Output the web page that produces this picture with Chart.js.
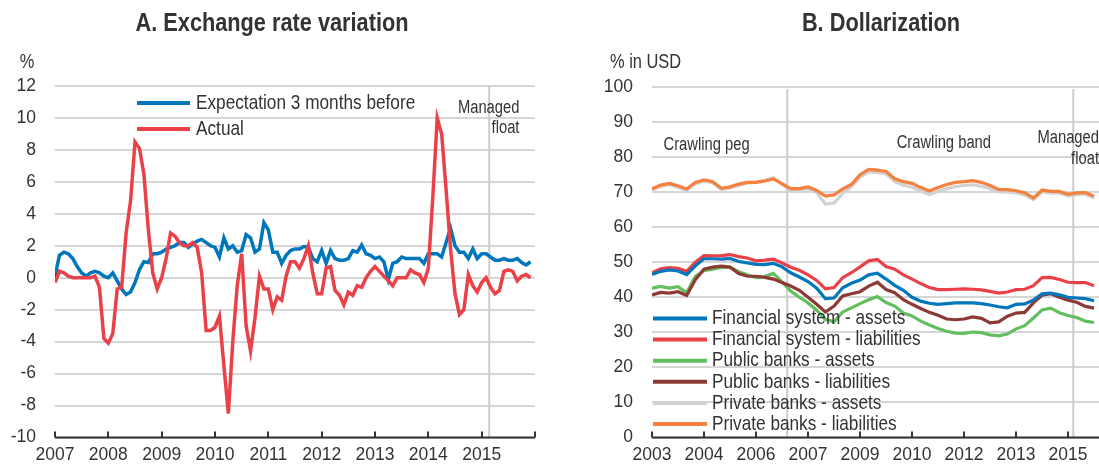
<!DOCTYPE html>
<html><head><meta charset="utf-8">
<script src="https://cdn.jsdelivr.net/npm/chart.js@4.4.0/dist/chart.umd.min.js"></script>
<style>
html,body{margin:0;padding:0;background:#fff;}
#wrap{position:relative;width:1099px;height:467px;overflow:hidden;background:#fff;}
#c1{position:absolute;left:0;top:0;}
#c2{position:absolute;left:560px;top:0;}
</style></head><body>
<div id="wrap"><canvas id="c1" width="560" height="467"></canvas><canvas id="c2" width="539" height="467"></canvas></div>
<script>
// ---------------- DATA ----------------
// Panel A: monthly, Jan 2007 .. Dec 2015 (month index 0..107)
const exStartYear = 2007;
const exExpectation = [0.1,1.4,1.6,1.5,1.2,0.7,0.3,0.1,0.3,0.4,0.3,0.1,
  0.0,0.3,-0.2,-0.7,-1.05,-0.9,-0.3,0.5,1.0,0.95,1.5,1.5,
  1.6,1.8,1.9,2.0,2.2,2.2,1.9,2.1,2.3,2.4,2.2,2.0,
  1.9,1.3,2.5,1.8,2.0,1.6,1.7,2.7,2.5,1.6,1.8,3.45,
  3.0,1.6,1.6,0.9,1.4,1.7,1.8,1.8,1.95,1.9,1.2,1.0,
  1.7,0.9,1.7,1.2,1.1,1.1,1.2,1.7,1.6,2.05,1.5,1.4,
  1.2,1.3,1.0,-0.1,0.9,1.0,1.3,1.2,1.2,1.2,1.2,0.9,
  1.5,1.5,1.5,1.3,2.2,3.1,2.0,1.6,1.6,1.2,1.8,1.2,
  1.5,1.5,1.3,1.1,1.1,1.2,1.1,1.1,1.2,0.95,0.8,1.0];
const exActual = [-0.3,0.4,0.3,0.1,0.0,0.0,0.0,0.0,0.0,0.1,-0.6,-3.8,
  -4.1,-3.5,-0.7,-0.6,2.8,4.8,8.5,8.1,6.5,3.0,0.3,-0.7,
  0.0,1.2,2.8,2.6,2.2,2.0,2.0,2.2,1.9,0.3,-3.3,-3.3,
  -3.1,-2.4,-5.5,-8.5,-4.0,-0.5,1.5,-3.0,-4.6,-2.5,0.1,-0.7,
  -0.7,-2.0,-1.2,-1.4,0.1,1.0,1.0,0.6,1.2,2.0,0.3,-1.0,
  -1.0,0.6,0.7,-0.8,-1.1,-1.7,-0.9,-1.1,-0.5,-0.6,0.0,0.4,
  0.7,0.4,0.1,-0.2,-0.5,0.0,0.0,0.0,0.5,0.3,0.2,-0.3,
  0.6,5.0,10.0,9.0,5.5,1.8,-1.0,-2.3,-2.0,0.2,-0.5,-0.9,
  -0.3,0.0,-0.6,-1.0,-0.8,0.4,0.5,0.4,-0.2,0.1,0.2,0.0];
const exYTicks = [-10,-8,-6,-4,-2,0,2,4,6,8,10,12];
const exManagedFloatMonth = 97.7;

// Panel B: quarterly readings, Jan 2003 .. (month index 0,3,...,153)
const dolStartYear = 2003;
const dolStepMonths = 3;
const fsAssets = [46.5,47.4,47.8,47.5,46.5,49.0,51.0,51.0,50.9,51.1,50.2,49.8,49.4,49.3,49.7,48.7,47.0,45.8,44.5,42.6,39.6,39.8,42.7,44.0,44.9,46.4,46.9,45.2,43.4,42.0,40.0,38.9,38.3,38.0,38.2,38.4,38.4,38.4,38.2,37.8,37.3,37.0,38.0,38.1,39.2,41.0,41.2,40.7,40.0,39.8,39.6,39.0];
const fsLiabilities = [47.0,48.1,48.5,48.3,47.4,50.0,51.9,51.8,51.9,52.2,51.6,51.2,50.4,50.6,50.9,49.8,48.6,47.7,46.4,44.8,42.4,42.8,45.6,47.0,48.7,50.4,50.8,48.8,48.0,46.4,45.2,43.9,42.8,42.2,42.2,42.3,42.4,42.3,42.1,41.7,41.2,41.5,42.2,42.3,43.3,45.6,45.7,45.1,44.3,44.2,44.2,43.3];
const pubAssets = [42.6,43.1,42.6,43.0,41.3,46.0,47.6,48.0,48.5,48.6,47.3,46.4,45.6,45.9,46.8,44.4,41.8,40.0,38.4,36.3,33.7,33.0,35.8,37.0,38.2,39.3,40.2,38.5,37.5,35.5,34.7,33.2,32.1,31.1,30.3,29.8,29.7,30.1,29.9,29.3,29.0,29.5,31.0,31.9,34.1,36.4,36.9,35.6,34.8,34.2,33.2,32.8];
const pubLiabilities = [40.7,41.4,41.2,41.6,40.5,45.0,48.0,48.6,48.9,48.6,46.8,46.0,46.0,45.7,45.2,44.2,43.2,42.0,40.0,38.0,35.8,37.5,40.4,41.0,41.6,43.2,44.3,42.2,41.3,39.3,38.0,36.8,35.7,34.9,33.8,33.6,33.8,34.4,34.0,32.7,33.0,34.6,35.5,35.7,38.4,40.6,41.0,40.0,39.2,38.6,37.4,36.9];
const privAssets = [70.6,71.6,72.2,71.4,70.5,72.4,73.2,72.6,70.8,71.1,71.9,72.6,72.8,73.3,74.2,72.3,70.6,70.5,71.0,69.8,66.6,66.9,69.6,71.5,74.2,75.8,75.6,75.2,73.0,72.0,71.4,70.3,69.3,70.2,71.0,71.6,71.9,72.1,71.7,71.0,70.1,70.1,69.8,69.2,67.9,70.1,69.7,69.7,68.9,69.3,69.4,68.3];
const privLiabilities = [71.0,72.0,72.5,71.8,70.9,72.8,73.5,73.0,71.1,71.5,72.3,72.8,72.8,73.2,73.8,72.4,71.0,71.0,71.5,70.5,68.9,69.2,70.9,72.2,75.0,76.5,76.3,75.9,73.8,73.0,72.5,71.3,70.3,71.3,72.2,72.8,73.0,73.3,72.8,71.9,70.8,70.7,70.4,69.8,68.3,70.6,70.2,70.2,69.4,69.8,69.9,68.8];
const dolYTicks = [0,10,20,30,40,50,60,70,80,90,100];
const dolRegimeMonths = [46.8, 145.8];

// ---------------- STYLE ----------------
const FONT = '"Liberation Sans",Arial,sans-serif';
const TICKFONT = {family:FONT, size:17.5};
const NARROW = 0.82;
const TXT = '#333333';
const GRID = '#d6d6d6';
const C = {blue:'#0076BC', red:'#EA4149', green:'#63BE5F', brown:'#8C3A33', gray:'#D2D2D2', orange:'#F5803F'};

function pts(arr, step){ return arr.map((v,i)=>({x:i*step, y:v})); }

function axisPlugin(tickMonths){
  return {
    id:'axisdeco',
    afterDraw(chart){
      const ctx = chart.ctx, a = chart.chartArea, xs = chart.scales.x;
      ctx.save();
      ctx.strokeStyle = '#333'; ctx.lineWidth = 2;
      ctx.beginPath(); ctx.moveTo(a.left, a.bottom); ctx.lineTo(a.right, a.bottom); ctx.stroke();
      tickMonths.forEach(m=>{
        const px = Math.round(xs.getPixelForValue(m));
        ctx.beginPath(); ctx.moveTo(px, a.bottom); ctx.lineTo(px, a.bottom-6); ctx.stroke();
      });
      ctx.restore();
    }
  };
}
// narrow (condensed) text, emulating a narrow sans
function textAt(ctx, s, x, y, align, font){
  ctx.save();
  ctx.translate(x, y); ctx.scale(NARROW, 1);
  ctx.font = font; ctx.fillStyle = TXT; ctx.textAlign = align; ctx.textBaseline = 'middle';
  ctx.fillText(s, 0, 0);
  ctx.restore();
}

// ---------------- PANEL A ----------------
const exTickMonths = [];
for (let m=0; m<=exExpectation.length; m+=12) exTickMonths.push(m);

new Chart(document.getElementById('c1'), {
  type:'line',
  data:{datasets:[
    {label:'Actual', data:pts(exActual,1), borderColor:C.red, borderWidth:3.5, pointRadius:0, tension:0, order:0},
    {label:'Expectation 3 months before', data:pts(exExpectation,1), borderColor:C.blue, borderWidth:3.5,
     pointRadius:(c)=>c.dataIndex===0?4:0, pointStyle:'crossRot', pointBorderColor:'#333', pointBorderWidth:2, tension:0, order:1}
  ]},
  options:{
    responsive:false, animation:false, events:[],
    layout:{padding:{top:86,right:25,left:0,bottom:0}},
    plugins:{legend:{display:false}, tooltip:{enabled:false}},
    scales:{
      x:{type:'linear', min:0, max:exExpectation.length,
         grid:{display:false, drawTicks:false}, border:{display:false},
         ticks:{stepSize:12, autoSkip:false, maxRotation:0, padding:7, color:TXT, font:TICKFONT,
           callback:(v)=> v < exExpectation.length ? String(exStartYear + v/12) : ''},
         afterFit:(s)=>{ s.height = 29; }},
      y:{min:exYTicks[0], max:exYTicks[exYTicks.length-1],
         grid:{color:GRID, lineWidth:2, drawTicks:false}, border:{display:false},
         afterBuildTicks:(s)=>{ s.ticks = exYTicks.map(v=>({value:v})); },
         ticks:{padding:19, color:TXT, font:TICKFONT},
         afterFit:(s)=>{ s.width = 55; }}
    }
  },
  plugins:[
    {id:'regA', beforeDatasetsDraw(chart){
      const ctx=chart.ctx,a=chart.chartArea,xs=chart.scales.x,ys=chart.scales.y;
      const px = xs.getPixelForValue(exManagedFloatMonth);
      ctx.save(); ctx.strokeStyle='#cccccc'; ctx.lineWidth=2;
      ctx.beginPath(); ctx.moveTo(px,a.top); ctx.lineTo(px,a.bottom); ctx.stroke();
      const f = '18px '+FONT;
      textAt(ctx,'Managed', xs.getPixelForValue(104.5), ys.getPixelForValue(10.6), 'right', f);
      textAt(ctx,'float', xs.getPixelForValue(104.5), ys.getPixelForValue(9.35), 'right', f);
      ctx.restore();
    },
    afterDatasetsDraw(chart){
      const ctx=chart.ctx;
      ctx.save();
      const items=[['Expectation 3 months before',C.blue,103],['Actual',C.red,129]];
      items.forEach(([t,c,y])=>{
        ctx.strokeStyle=c; ctx.lineWidth=4; ctx.lineCap='butt';
        ctx.beginPath(); ctx.moveTo(137,y); ctx.lineTo(190,y); ctx.stroke();
        textAt(ctx,t,196,y,'left','21px '+FONT);
      });
      textAt(ctx,'%',27,62,'center','20px '+FONT);
      textAt(ctx,'A. Exchange rate variation',272,24,'center','bold 26.5px '+FONT);
      ctx.restore();
    }},
    axisPlugin(exTickMonths)
  ]
});

// ---------------- PANEL B ----------------
const dolLastMonth = (fsAssets.length-1)*dolStepMonths;
const dolTickMonths = [];
for (let m=0; m<=dolLastMonth; m+=18) dolTickMonths.push(m);

new Chart(document.getElementById('c2'), {
  type:'line',
  data:{datasets:[
    {label:'Private banks - liabilities', data:pts(privLiabilities,dolStepMonths), borderColor:C.orange, order:0},
    {label:'Private banks - assets', data:pts(privAssets,dolStepMonths), borderColor:C.gray, order:1},
    {label:'Financial system - assets', data:pts(fsAssets,dolStepMonths), borderColor:C.blue, order:2},
    {label:'Financial system - liabilities', data:pts(fsLiabilities,dolStepMonths), borderColor:C.red, order:3},
    {label:'Public banks - liabilities', data:pts(pubLiabilities,dolStepMonths), borderColor:C.brown, order:4},
    {label:'Public banks - assets', data:pts(pubAssets,dolStepMonths), borderColor:C.green, order:5}
  ].map(d=>Object.assign(d,{borderWidth:3.2,pointRadius:0,tension:0}))},
  options:{
    responsive:false, animation:false, events:[],
    layout:{padding:{top:87,right:0,left:0,bottom:0}},
    plugins:{legend:{display:false}, tooltip:{enabled:false}},
    scales:{
      x:{type:'linear', min:0, max:154.7,
         grid:{display:false, drawTicks:false}, border:{display:false},
         ticks:{stepSize:18, includeBounds:false, autoSkip:false, maxRotation:0, padding:7, color:TXT, font:TICKFONT,
           callback:(v)=> String(dolStartYear + Math.floor(v/12))},
         afterFit:(s)=>{ s.height = 29; }},
      y:{min:0, max:100,
         grid:{color:GRID, lineWidth:2, drawTicks:false}, border:{display:false},
         afterBuildTicks:(s)=>{ s.ticks = dolYTicks.map(v=>({value:v})); },
         ticks:{padding:19, color:TXT, font:TICKFONT},
         afterFit:(s)=>{ s.width = 92; }}
    }
  },
  plugins:[
    {id:'regB', beforeDatasetsDraw(chart){
      const ctx=chart.ctx,a=chart.chartArea,xs=chart.scales.x,ys=chart.scales.y;
      ctx.save(); ctx.strokeStyle='#cccccc'; ctx.lineWidth=2;
      dolRegimeMonths.forEach(m=>{
        const px = xs.getPixelForValue(m);
        ctx.beginPath(); ctx.moveTo(px,a.top+2); ctx.lineTo(px,a.bottom); ctx.stroke();
      });
      const f='18px '+FONT;
      textAt(ctx,'Crawling peg', xs.getPixelForValue(18.9), ys.getPixelForValue(83.5),'center',f);
      textAt(ctx,'Crawling band', xs.getPixelForValue(101), ys.getPixelForValue(84.0),'center',f);
      textAt(ctx,'Managed', a.right, ys.getPixelForValue(85.5),'right',f);
      textAt(ctx,'float', a.right, ys.getPixelForValue(79.5),'right',f);
      ctx.restore();
    },
    afterDatasetsDraw(chart){
      const ctx=chart.ctx;
      ctx.save();
      const items=[['Financial system - assets',C.blue],['Financial system - liabilities',C.red],['Public banks - assets',C.green],
        ['Public banks - liabilities',C.brown],['Private banks - assets',C.gray],['Private banks - liabilities',C.orange]];
      items.forEach(([t,c],i)=>{
        const y = 318.5 + i*21.1;
        ctx.strokeStyle=c; ctx.lineWidth=4; ctx.lineCap='butt';
        ctx.beginPath(); ctx.moveTo(93,y); ctx.lineTo(147,y); ctx.stroke();
        textAt(ctx,t,152,y,'left','21px '+FONT);
      });
      textAt(ctx,'% in USD',50,62,'left','20px '+FONT);
      textAt(ctx,'B. Dollarization',321,24,'center','bold 26.5px '+FONT);
      ctx.restore();
    }},
    axisPlugin(dolTickMonths)
  ]
});
</script>
</body></html>
